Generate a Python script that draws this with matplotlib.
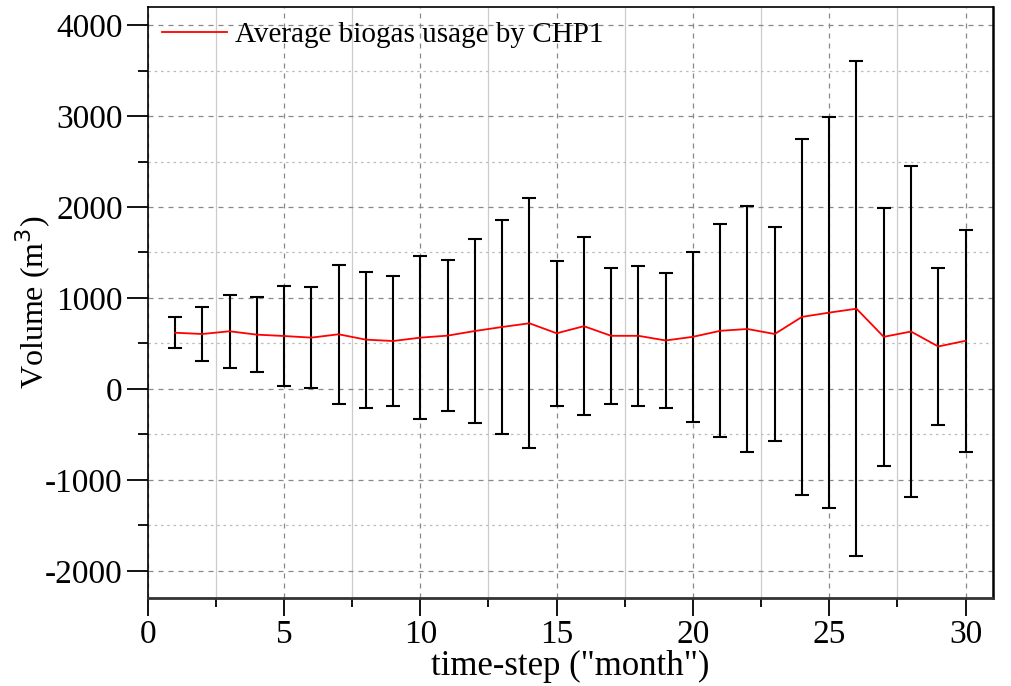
# Average biogas usage by CHP1 with std error bars
import numpy as np
import matplotlib.pyplot as plt
from matplotlib.ticker import MultipleLocator

plt.rcParams['font.family'] = ['Liberation Serif', 'DejaVu Serif']
plt.rcParams['axes.unicode_minus'] = False

months = np.arange(1, 31)
mean_usage = [618, 604, 634, 597, 582, 564, 601, 542, 527, 564,
              586, 637, 681, 722, 612, 690, 584, 584, 533, 573,
              639, 659, 604, 792, 839, 882, 573, 631, 467, 529]
std_usage = [170, 302, 400, 416, 553, 559, 764, 747, 718, 896,
             826, 1012, 1172, 1375, 794, 978, 745, 768, 747, 937,
             1172, 1357, 1178, 1957, 2149, 2721, 1421, 1817, 861, 1219]

fig = plt.figure(figsize=(10.12, 6.86), dpi=100)
ax = fig.add_axes([0.146, 0.128, 0.835, 0.862])

ax.errorbar(months, mean_usage, yerr=std_usage, fmt='none', ecolor='black',
            elinewidth=1.5, capsize=5, capthick=1.5, zorder=3)
ax.plot(months, mean_usage, color='red', lw=1.3, zorder=4,
        label='Average biogas usage by CHP1')

ax.set_xlim(0, 31)
ax.set_ylim(-2300, 4200)
ax.xaxis.set_major_locator(MultipleLocator(5))
ax.xaxis.set_minor_locator(MultipleLocator(2.5))
ax.yaxis.set_major_locator(MultipleLocator(1000))
ax.yaxis.set_minor_locator(MultipleLocator(500))

ax.grid(which='major', axis='x', ls=(0, (4, 4)), color='#888888', lw=0.9)
ax.grid(which='minor', axis='x', ls='-', color='#cccccc', lw=0.9)
ax.grid(which='major', axis='y', ls=(0, (4, 4)), color='#888888', lw=0.9)
ax.grid(which='minor', axis='y', ls=(0, (2, 3)), color='#bbbbbb', lw=0.9)
ax.set_axisbelow(True)

ax.tick_params(which='major', axis='y', direction='out', length=15, width=1.3,
               labelsize=24, pad=3)
ax.tick_params(which='minor', axis='y', direction='out', length=7, width=1.3)
ax.tick_params(which='major', axis='x', direction='out', length=13, width=1.3,
               labelsize=24, pad=2)
ax.tick_params(which='minor', axis='x', direction='out', length=6.5, width=1.3)

ax.spines['bottom'].set_linewidth(2)
ax.spines['bottom'].set_color('#333333')
ax.spines['right'].set_linewidth(1.8)
ax.spines['left'].set_linewidth(1.2)
ax.spines['top'].set_linewidth(1.2)

ax.set_xlabel('time-step ("month")', fontsize=25, labelpad=0)
ax.set_ylabel('Volume (m$^3$)', fontsize=23, labelpad=-6)

ax.legend(loc='upper left', frameon=False, fontsize=21, handlelength=2.2,
          handletextpad=0.3, borderaxespad=0.1)

fig.savefig('out.png', dpi=100)
